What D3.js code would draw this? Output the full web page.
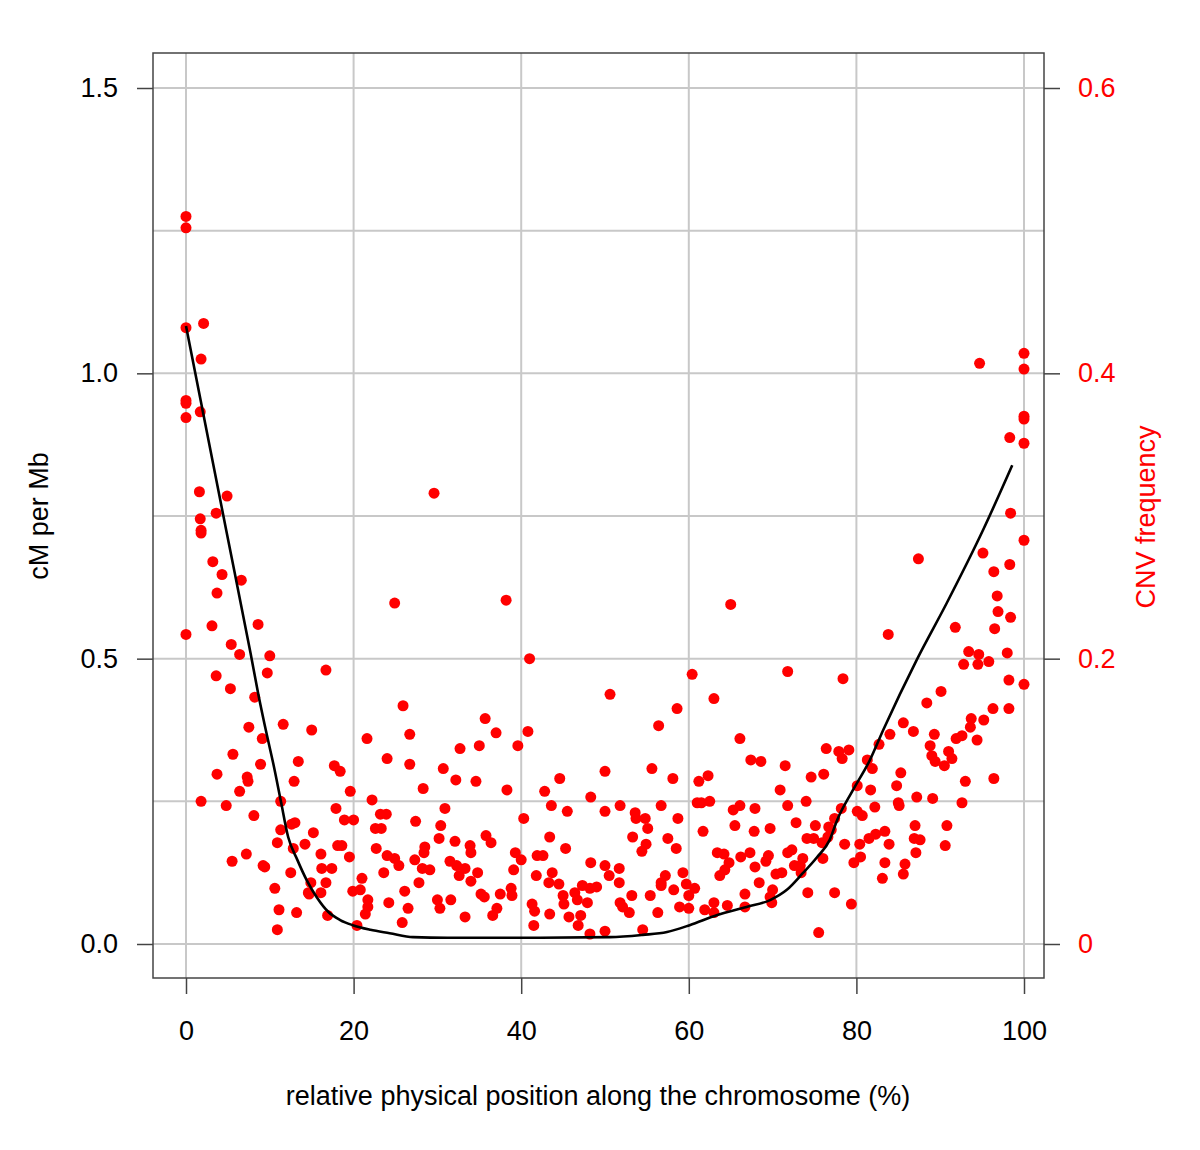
<!DOCTYPE html>
<html lang="en">
<head>
<meta charset="utf-8">
<title>cM per Mb and CNV frequency</title>
<script src="https://d3js.org/d3.v7.min.js"></script>
<style>
  body { margin: 0; background: #fff; }
  text { font-family: "Liberation Sans", Arial, sans-serif; }
</style>
</head>
<body>
<div id="my_dataviz"></div>
<script>
// CNV frequency points (red, right axis)
var cnvPos = [0,0,0,2.1,1.8,0,0,0,1.7,1.6,4.9,3.6,1.7,1.8,1.8,3.2,4.3,6.6,3.7,0,3.1,8.6,5.4,6.4,10.0,3.6,9.7,16.7,5.3,8.2,7.5,11.6,15.0,21.6,9.1,
  5.6,8.9,13.4,3.7,7.3,7.4,17.7,18.4,12.9,24.0,6.4,19.6,1.8,4.8,11.3,22.2,17.9,8.1,23.2,23.9,18.9,20.0,12.6,13.0,22.6,23.3,11.3,15.2,10.9,14.2,18.1,18.6,12.8,22.7,16.1,7.2,5.5,19.5,24.0,9.2,9.4,16.2,17.4,12.5,23.6,21.0,14.9,16.7,10.6,14.6,14.7,16.1,19.9,20.8,21.7,24.2,21.7,21.4,11.1,13.2,16.9,20.4,10.9,
  24.9,38.2,41.0,50.6,25.9,35.7,26.7,37.0,40.8,29.6,
  32.7,35.0,39.6,26.7,30.7,32.2,34.6,28.3,38.3,44.6,42.8,50.0,48.3,30.9,43.6,45.5,50.0,40.3,27.4,30.4,30.2,32.1,35.8,36.4,43.4,33.9,34.0,28.4,28.5,45.3,24.9,25.4,27.3,31.5,32.3,39.3,40.0,41.9,42.6,48.3,50.0,28.2,29.1,33.3,32.6,34.8,39.1,41.8,43.7,50.5,27.8,34.0,43.3,44.5,47.3,48.2,49.0,26.1,35.2,35.6,37.5,38.8,38.9,45.0,46.4,46.7,30.0,30.3,31.6,41.3,41.6,45.1,47.9,26.5,37.1,36.6,43.4,45.7,47.1,25.8,33.3,41.5,46.8,48.2,50.0,
  65.0,60.4,71.8,63.0,58.6,56.4,66.1,
  76.4,55.6,58.1,61.2,62.3,67.4,68.6,71.5,74.6,76.1,70.9,51.8,56.7,53.6,53.7,54.8,55.1,58.7,61.0,61.5,62.5,65.3,66.1,67.9,71.8,74.0,65.5,67.8,69.7,72.8,75.1,61.7,53.3,54.9,54.4,57.5,58.5,74.1,74.9,75.9,76.6,63.4,64.2,66.2,67.3,69.5,69.2,71.8,72.3,73.6,76.0,51.7,64.8,64.3,63.7,67.9,72.6,73.3,73.4,70.4,71.1,51.7,57.2,59.3,56.7,56.7,58.2,59.7,60.7,60.0,68.4,70.0,69.7,69.9,66.7,74.2,53.2,55.4,51.8,52.1,52.9,58.9,60.0,61.9,63.0,63.0,64.6,66.7,56.3,54.5,75.5,
  94.7,100,100,100,100,98.3,100,98.4,100,
  87.4,95.1,98.3,96.4,96.8,96.9,98.4,96.5,91.8,83.8,93.4,94.6,98.0,92.8,94.5,95.8,78.4,98.2,100,90.1,88.4,96.3,98.2,85.6,93.7,93.6,95.2,84.0,86.8,89.3,92.6,91.9,94.4,
  77.9,78.3,79.1,82.7,88.8,89.0,91.0,91.4,89.4,90.5,81.3,81.9,85.3,84.8,93.0,96.4,80.1,81.7,87.2,89.1,92.6,85.0,85.1,78.2,82.2,80.1,80.7,77.4,76.7,77.0,87.0,90.8,81.5,82.3,83.4,78.6,80.4,83.9,86.9,87.6,90.6,87.1,80.5,79.7,83.4,85.8,85.6,83.1,77.4,79.4];
var cnvFreq = [0.510,0.502,0.432,0.435,0.410,0.381,0.379,0.369,0.373,0.317,0.314,0.302,0.298,0.290,0.288,0.268,0.259,0.255,0.246,0.217,0.223,0.224,0.210,0.203,0.202,0.188,0.190,0.192,0.179,0.173,0.152,0.154,0.150,0.144,0.144,
  0.133,0.126,0.128,0.119,0.117,0.114,0.125,0.121,0.114,0.130,0.107,0.107,0.100,0.097,0.100,0.101,0.095,0.090,0.091,0.091,0.087,0.087,0.084,0.085,0.081,0.081,0.080,0.078,0.071,0.070,0.069,0.069,0.067,0.067,0.063,0.063,0.058,0.061,0.062,0.055,0.054,0.053,0.053,0.050,0.050,0.046,0.043,0.043,0.039,0.036,0.035,0.036,0.037,0.038,0.031,0.029,0.026,0.021,0.024,0.022,0.020,0.013,0.010,
  0.239,0.241,0.200,0.175,0.167,0.158,0.147,0.148,0.149,0.316,
  0.137,0.139,0.139,0.126,0.123,0.115,0.114,0.109,0.108,0.116,0.107,0.121,0.103,0.095,0.097,0.093,0.093,0.088,0.086,0.083,0.074,0.072,0.076,0.071,0.075,0.069,0.064,0.064,0.068,0.067,0.060,0.055,0.059,0.058,0.055,0.064,0.059,0.062,0.062,0.057,0.055,0.053,0.052,0.053,0.048,0.050,0.052,0.048,0.050,0.048,0.043,0.044,0.043,0.042,0.041,0.039,0.040,0.037,0.035,0.033,0.035,0.039,0.034,0.034,0.036,0.031,0.031,0.025,0.031,0.028,0.023,0.028,0.029,0.025,0.025,0.020,0.021,0.019,0.020,0.015,0.019,0.013,0.013,0.007,0.009,
  0.238,0.189,0.191,0.172,0.165,0.153,0.144,
  0.137,0.123,0.116,0.114,0.118,0.129,0.128,0.125,0.117,0.119,0.108,0.097,0.097,0.092,0.088,0.088,0.081,0.088,0.099,0.099,0.100,0.094,0.097,0.095,0.097,0.100,0.083,0.079,0.081,0.085,0.083,0.079,0.075,0.070,0.065,0.074,0.067,0.074,0.074,0.071,0.075,0.064,0.063,0.061,0.064,0.062,0.058,0.064,0.066,0.060,0.060,0.053,0.057,0.052,0.048,0.054,0.055,0.055,0.050,0.049,0.050,0.043,0.048,0.050,0.043,0.041,0.038,0.042,0.039,0.034,0.043,0.038,0.033,0.029,0.035,0.036,0.034,0.034,0.029,0.026,0.022,0.026,0.025,0.024,0.029,0.022,0.027,0.026,0.022,0.010,0.008,
  0.407,0.414,0.403,0.370,0.368,0.355,0.351,0.302,0.283,
  0.270,0.274,0.266,0.261,0.244,0.233,0.229,0.221,0.222,0.217,0.205,0.203,0.204,0.196,0.196,0.198,0.186,0.185,0.182,0.177,0.169,0.165,0.165,0.155,0.158,0.152,0.157,0.147,0.149,0.147,0.146,0.144,0.143,
  0.135,0.130,0.136,0.140,0.139,0.132,0.135,0.130,0.128,0.125,0.129,0.123,0.120,0.111,0.114,0.116,0.111,0.108,0.103,0.102,0.099,0.099,0.097,0.095,0.096,0.093,0.090,0.088,0.082,0.080,0.083,0.083,0.074,0.077,0.079,0.070,0.070,0.070,0.074,0.073,0.069,0.064,0.061,0.057,0.057,0.056,0.049,0.046,0.036,0.028];

// smoothed recombination rate (black line, left axis)
var curvePos = [0,4.8,7.7,8.6,9.7,10.4,11.3,12.2,13.3,14.4,15.6,17.0,18.4,19.9,22.0,24.3,27.1,31.2,39.9,50.6,54.5,57.4,60.1,63.4,66.9,69.7,71.7,73.6,75.3,76.8,77.7,79.6,81.6,83.2,87.2,90.8,95.1,98.6];
var curveCM = [1.083,0.725,0.510,0.440,0.363,0.317,0.252,0.187,0.147,0.112,0.082,0.056,0.042,0.033,0.025,0.019,0.012,0.011,0.011,0.012,0.016,0.021,0.033,0.051,0.065,0.077,0.095,0.124,0.152,0.182,0.217,0.270,0.322,0.375,0.498,0.598,0.725,0.839];

var xTicks = [0, 20, 40, 60, 80, 100];
var yLeftTicks = [0, 0.5, 1.0, 1.5];
var yRightTicks = [0, 0.2, 0.4, 0.6];
var yGrid = [0, 0.25, 0.5, 0.75, 1.0, 1.25, 1.5];

var W = 1200, H = 1150;
var box = { left: 153, right: 1044, top: 53, bottom: 978 };

var svg = d3.select("#my_dataviz")
    .append("svg")
    .attr("width", W)
    .attr("height", H);

var x = d3.scaleLinear().domain([0, 100]).range([186, 1024]);
var yL = d3.scaleLinear().domain([0, 1.5]).range([944, 88]);
var yR = d3.scaleLinear().domain([0, 0.6]).range([944, 88]);

// grid
svg.append("g").selectAll("line")
    .data(xTicks).enter().append("line")
    .attr("x1", function(d) { return x(d); })
    .attr("x2", function(d) { return x(d); })
    .attr("y1", box.top).attr("y2", box.bottom)
    .attr("stroke", "#c8c8c8").attr("stroke-width", 2);
svg.append("g").selectAll("line")
    .data(yGrid).enter().append("line")
    .attr("x1", box.left).attr("x2", box.right)
    .attr("y1", function(d) { return yL(d); })
    .attr("y2", function(d) { return yL(d); })
    .attr("stroke", "#c8c8c8").attr("stroke-width", 2);

// points
var pts = cnvPos.map(function(p, i) { return { p: p, f: cnvFreq[i] }; });
svg.append("g").selectAll("circle")
    .data(pts).enter().append("circle")
    .attr("cx", function(d) { return x(d.p); })
    .attr("cy", function(d) { return yR(d.f); })
    .attr("r", 5.5)
    .attr("fill", "#ff0000");

// curve
var line = d3.line()
    .x(function(d, i) { return x(curvePos[i]); })
    .y(function(d) { return yL(d); })
    .curve(d3.curveMonotoneX);
svg.append("path")
    .datum(curveCM)
    .attr("d", line)
    .attr("fill", "none")
    .attr("stroke", "#000")
    .attr("stroke-width", 2.6);

// box
svg.append("rect")
    .attr("x", box.left).attr("y", box.top)
    .attr("width", box.right - box.left).attr("height", box.bottom - box.top)
    .attr("fill", "none").attr("stroke", "#444").attr("stroke-width", 1.5);

// axes
var fs = "27px";
var gx = svg.append("g")
    .attr("transform", "translate(0," + box.bottom + ")")
    .call(d3.axisBottom(x).tickValues(xTicks).tickSize(16).tickPadding(27));
var gl = svg.append("g")
    .attr("transform", "translate(" + box.left + ",0)")
    .call(d3.axisLeft(yL).tickValues(yLeftTicks).tickFormat(d3.format(".1f")).tickSize(16).tickPadding(19));
var gr = svg.append("g")
    .attr("transform", "translate(" + box.right + ",0)")
    .call(d3.axisRight(yR).tickValues(yRightTicks).tickFormat(function(d) { return d === 0 ? "0" : d3.format(".1f")(d); }).tickSize(16).tickPadding(18));
[gx, gl, gr].forEach(function(g) {
    g.select(".domain").remove();
    g.selectAll(".tick line").attr("stroke", "#444").attr("stroke-width", 1.5);
    g.selectAll("text").style("font-size", fs).attr("fill", "#000");
});
gr.selectAll("text").attr("fill", "#ff0000");

// titles
svg.append("text")
    .attr("x", 598).attr("y", 1105)
    .attr("text-anchor", "middle")
    .style("font-size", "27px")
    .text("relative physical position along the chromosome (%)");
svg.append("text")
    .attr("transform", "translate(48,516) rotate(-90)")
    .attr("text-anchor", "middle")
    .style("font-size", "27px")
    .text("cM per Mb");
svg.append("text")
    .attr("transform", "translate(1155,517) rotate(-90)")
    .attr("text-anchor", "middle")
    .attr("fill", "#ff0000")
    .style("font-size", "27px")
    .text("CNV frequency");
</script>
</body>
</html>
